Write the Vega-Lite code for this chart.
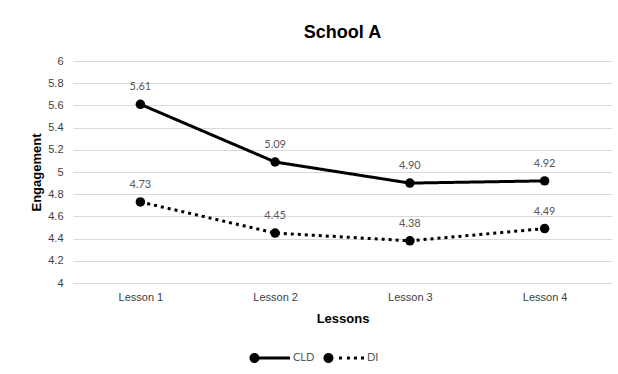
{
  "$schema": "https://vega.github.io/schema/vega-lite/v6.json",
  "autosize": {"type": "none"},
  "width": 539,
  "height": 222,
  "padding": {"left": 73, "top": 61, "right": 6, "bottom": 91},
  "background": "white",
  "title": {"text": "School A", "font": "Liberation Sans", "fontSize": 18, "fontWeight": "bold", "color": "#000000", "offset": 13, "anchor": "middle"},
  "data": {"values": [
    {"lesson": "Lesson 1", "series": "CLD", "value": 5.61},
    {"lesson": "Lesson 2", "series": "CLD", "value": 5.09},
    {"lesson": "Lesson 3", "series": "CLD", "value": 4.90},
    {"lesson": "Lesson 4", "series": "CLD", "value": 4.92},
    {"lesson": "Lesson 1", "series": "DI", "value": 4.73},
    {"lesson": "Lesson 2", "series": "DI", "value": 4.45},
    {"lesson": "Lesson 3", "series": "DI", "value": 4.38},
    {"lesson": "Lesson 4", "series": "DI", "value": 4.49}
  ]},
  "encoding": {
    "x": {"field": "lesson", "type": "nominal", "scale": {"type": "point", "padding": 0.5},
      "axis": {"title": "Lessons", "labelAngle": 0, "domain": false, "ticks": false, "grid": false, "labelFont": "Liberation Sans", "labelFontSize": 11, "labelColor": "#404040", "labelPadding": 8, "titleFont": "Liberation Sans", "titleFontSize": 13, "titleFontWeight": "bold", "titleColor": "#000000", "titlePadding": 10}},
    "y": {"field": "value", "type": "quantitative", "scale": {"domain": [4, 6], "nice": false, "zero": false},
      "axis": {"title": "Engagement", "values": [4, 4.2, 4.4, 4.6, 4.8, 5, 5.2, 5.4, 5.6, 5.8, 6], "format": "~g", "domain": false, "ticks": false, "grid": true, "gridColor": "#d9d9d9", "gridWidth": 1, "labelFont": "Liberation Sans", "labelFontSize": 11, "labelColor": "#404040", "labelPadding": 10, "titleFont": "Liberation Sans", "titleFontSize": 13, "titleFontWeight": "bold", "titleColor": "#000000", "titlePadding": 4}}
  },
  "layer": [
    {
      "mark": {"type": "line", "strokeWidth": 3, "point": {"filled": true, "size": 90}},
      "encoding": {
        "strokeDash": {"field": "series", "type": "nominal",
          "scale": {"domain": ["CLD", "DI"], "range": [[1, 0], [3, 4]]}, "legend": null},
        "color": {"field": "series", "type": "nominal",
          "scale": {"domain": ["CLD", "DI"], "range": ["#000000", "#000000"]},
          "legend": {"title": null, "orient": "none", "legendX": 179, "legendY": 278, "direction": "horizontal",
            "symbolSize": 1444,
            "labelFont": "Lato", "labelFontSize": 11, "labelColor": "#595959", "columnPadding": 8, "labelOffset": 3,
            "encode": {"symbols": {"update": {
              "shape": {"signal": "datum.value === 'DI' ? 'M -1.133,0 A 0.263,0.263 0 1,1 -0.607,0 A 0.263,0.263 0 1,1 -1.133,0 Z M -0.87,-0.079 L -0.62,-0.079 L -0.62,0.079 L -0.87,0.079 Z M -0.32,-0.079 L -0.16,-0.079 L -0.16,0.079 L -0.32,0.079 Z M 0.10,-0.079 L 0.26,-0.079 L 0.26,0.079 L 0.10,0.079 Z M 0.47,-0.079 L 0.63,-0.079 L 0.63,0.079 L 0.47,0.079 Z M 0.84,-0.079 L 1,-0.079 L 1,0.079 L 0.84,0.079 Z' : 'M -1.133,0 A 0.263,0.263 0 1,1 -0.607,0 A 0.263,0.263 0 1,1 -1.133,0 Z M -0.87,-0.079 L 1,-0.079 L 1,0.079 L -0.87,0.079 Z'"},
              "stroke": {"value": "transparent"}, "strokeWidth": {"value": 0}, "fill": {"value": "black"}, "fillOpacity": {"value": 1}, "opacity": {"value": 1}}}}}}
      }
    },
    {
      "mark": {"type": "text", "dy": -17, "font": "Lato", "fontSize": 11, "color": "#595959"},
      "encoding": {
        "text": {"field": "value", "type": "quantitative", "format": ".2f"}
      }
    }
  ],
  "config": {"view": {"stroke": null}}
}
